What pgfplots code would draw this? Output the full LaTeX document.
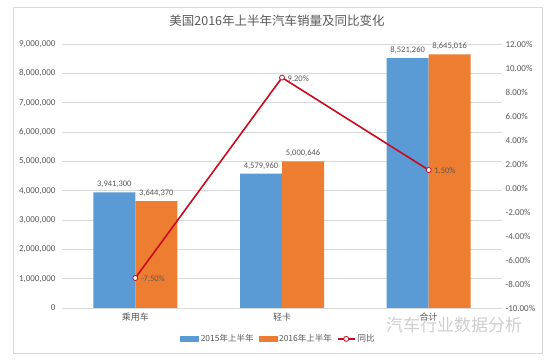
\documentclass[border=0pt]{standalone}
\usepackage{pgfplots}
\usepackage{pgfplotstable}
\pgfplotsset{compat=1.18}
\usepackage{fontspec}
\setmainfont{Carlito}
\newfontfamily\cjk{Noto Sans CJK SC}
\definecolor{cblue}{HTML}{5B9BD5}
\definecolor{corange}{HTML}{ED7D31}
\definecolor{cred}{HTML}{CC0A1E}
\definecolor{ctext}{HTML}{595959}
\definecolor{cgrid}{HTML}{D9D9D9}

\pgfplotstableread{
x a b la lb
0 3941300 3644370 3,941,300 3,644,370
1 4579960 5000646 4,579,960 5,000,646
2 8521260 8645016 8,521,260 8,645,016
}\bardata

\begin{document}
\begin{tikzpicture}
\fill[white] (0pt,0pt) rectangle (552pt,363pt);
\draw[cgrid] (13pt,10pt) rectangle (542pt,356pt);
\node[text=ctext, font=\cjk\fontsize{12.5}{14}\selectfont] at (277pt,342pt) {美国2016年上半年汽车销量及同比变化};

\begin{axis}[
  at={(62pt,55pt)}, anchor=south west, scale only axis, width=440pt, height=264pt,
  ybar=0pt, bar width=42pt,
  xmin=-0.5, xmax=2.5, ymin=0, ymax=9000000,
  enlargelimits=false,
  xtick={0,1,2}, xticklabels={乘用车,轻卡,合计},
  xticklabel style={font=\cjk\fontsize{9}{10}\selectfont, text=ctext, yshift=-1pt},
  ytick={0,1000000,2000000,3000000,4000000,5000000,6000000,7000000,8000000,9000000},
  yticklabels={0,{1,000,000},{2,000,000},{3,000,000},{4,000,000},{5,000,000},{6,000,000},{7,000,000},{8,000,000},{9,000,000}},
  yticklabel style={font=\fontsize{9}{10}\selectfont, text=ctext, xshift=-3pt},
  scaled y ticks=false,
  ymajorgrids, grid style={cgrid, line width=0.6pt},
  axis line style={draw=none}, major tick length=0pt,
  nodes near coords, point meta=explicit symbolic,
  nodes near coords style={font=\fontsize{8.5}{10}\selectfont, text=ctext, anchor=south, yshift=1pt},
]
\addplot[fill=cblue, draw=none] table[x=x, y=a, meta=la] {\bardata};
\addplot[fill=corange, draw=none] table[x=x, y=b, meta=lb] {\bardata};
\end{axis}

\begin{axis}[
  at={(62pt,55pt)}, anchor=south west, scale only axis, width=440pt, height=264pt,
  xmin=-0.5, xmax=2.5, ymin=-10, ymax=12,
  enlargelimits=false,
  axis y line*=right, axis x line=none,
  axis line style={draw=none}, major tick length=0pt,
  ytick={-10,-8,-6,-4,-2,0,2,4,6,8,10,12},
  yticklabels={-10.00\%,-8.00\%,-6.00\%,-4.00\%,-2.00\%,0.00\%,2.00\%,4.00\%,6.00\%,8.00\%,10.00\%,12.00\%},
  yticklabel style={font=\fontsize{9}{10}\selectfont, text=ctext},
  legend style={at={(0.492,-0.117)}, anchor=center, legend columns=-1, draw=none, fill=none,
    font=\cjk\fontsize{8.5}{10}\selectfont, text=ctext,
    /tikz/every even column/.append style={column sep=3pt}},
]
\addlegendimage{legend image code/.code={\fill[cblue] (0pt,-2.5pt) rectangle (18pt,2.5pt);}}
\addlegendentry{2015年上半年}
\addlegendimage{legend image code/.code={\fill[corange] (0pt,-2.5pt) rectangle (18pt,2.5pt);}}
\addlegendentry{2016年上半年}
\addplot[cred, line width=1.6pt, mark=*, mark size=2.5pt,
  mark options={fill=white, draw=cred, line width=0.8pt},
  nodes near coords, point meta=explicit symbolic,
  nodes near coords style={anchor=west, xshift=2pt, yshift=-1pt, font=\fontsize{8.5}{10}\selectfont, text=ctext}]
  coordinates {(0,-7.5)[-7.50\%] (1,9.2)[9.20\%] (2,1.5)[1.50\%]};
\addlegendentry{同比}
\end{axis}

\node[text=gray!45, opacity=0.85, font=\cjk\fontsize{17}{20}\selectfont] at (454pt,38pt) {汽车行业数据分析};
\end{tikzpicture}
\end{document}
